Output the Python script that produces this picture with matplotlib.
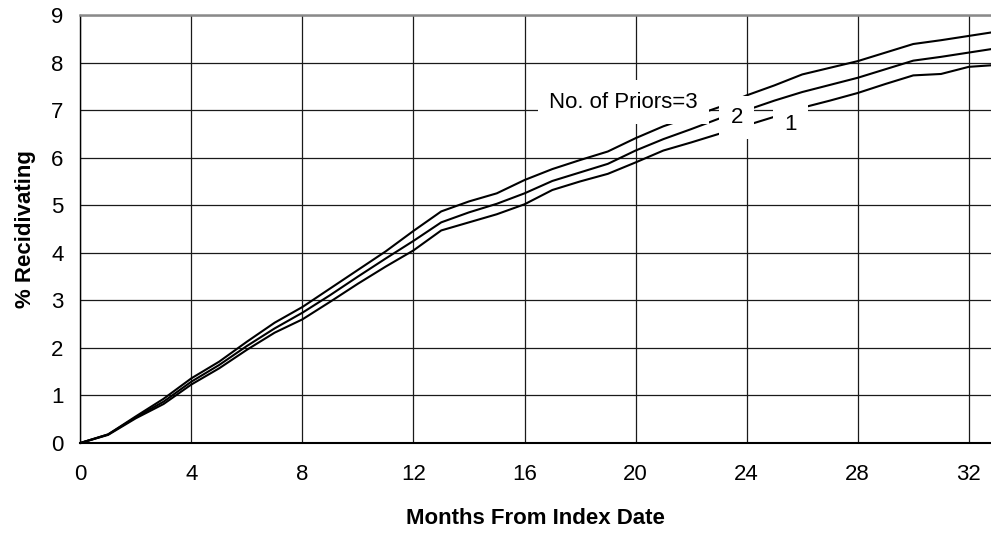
import matplotlib
matplotlib.use("Agg")
from matplotlib import pyplot as plt

plt.rcParams['font.family'] = ['Liberation Sans', 'DejaVu Sans']

months = list(range(34))

# cumulative % recidivating by number of prior offences
priors_3 = [0, 0.18, 0.56, 0.93, 1.36, 1.71, 2.13, 2.53, 2.86, 3.25, 3.64, 4.03,
            4.46, 4.87, 5.08, 5.25, 5.53, 5.76, 5.95, 6.13, 6.41, 6.66, 6.86, 7.06,
            7.31, 7.52, 7.75, 7.89, 8.03, 8.21, 8.39, 8.47, 8.56, 8.65]
priors_2 = [0, 0.18, 0.54, 0.87, 1.29, 1.64, 2.04, 2.41, 2.74, 3.11, 3.50, 3.88,
            4.25, 4.64, 4.85, 5.03, 5.25, 5.51, 5.69, 5.87, 6.15, 6.39, 6.60, 6.82,
            7.00, 7.20, 7.38, 7.53, 7.68, 7.86, 8.04, 8.12, 8.21, 8.30]
priors_1 = [0, 0.17, 0.52, 0.82, 1.23, 1.57, 1.96, 2.32, 2.60, 2.97, 3.35, 3.71,
            4.05, 4.47, 4.64, 4.81, 5.02, 5.32, 5.50, 5.66, 5.90, 6.15, 6.32, 6.50,
            6.68, 6.86, 7.05, 7.20, 7.36, 7.55, 7.73, 7.76, 7.91, 7.95]

x_ticks = list(range(0, 33, 4))
y_ticks = list(range(0, 10))

fig = plt.figure(figsize=(9.91, 5.35), dpi=100)
ax = fig.add_axes([80.3 / 991, 92 / 535, (991 - 80.3) / 991, 428 / 535])

for series in (priors_3, priors_2, priors_1):
    ax.plot(months, series, color='black', lw=1.5, zorder=3)

# in-plot labels sit on white boxes that cut through the lines
box = dict(boxstyle='square,pad=0.5', fc='white', ec='none')
ax.text(19.55, 7.17, 'No. of Priors=3', fontsize=16, ha='center', va='center',
        bbox=box, zorder=5)
ax.text(23.64, 6.84, '2', fontsize=16, ha='center', va='center', bbox=box, zorder=5)
ax.text(25.58, 6.70, '1', fontsize=16, ha='center', va='center', bbox=box, zorder=5)

ax.set_xlim(0, 32.8)
ax.set_ylim(0, 9)
ax.set_xticks(x_ticks)
ax.set_yticks(y_ticks)
ax.tick_params(axis='both', length=0, labelsize=16)
ax.tick_params(axis='x', pad=15)
ax.tick_params(axis='y', pad=12)

ax.grid(True, color='#1a1a1a', lw=0.9, zorder=1)
ax.set_axisbelow(True)

ax.spines['right'].set_visible(False)
ax.spines['top'].set_color('#8a8a8a')
ax.spines['top'].set_linewidth(1.8)
ax.spines['left'].set_linewidth(1.0)
ax.spines['bottom'].set_linewidth(1.5)

ax.set_xlabel('Months From Index Date', fontsize=16, fontweight='bold', labelpad=17)
ax.set_ylabel('% Recidivating', fontsize=16, fontweight='bold', labelpad=11)

fig.savefig('out.png', dpi=100)
